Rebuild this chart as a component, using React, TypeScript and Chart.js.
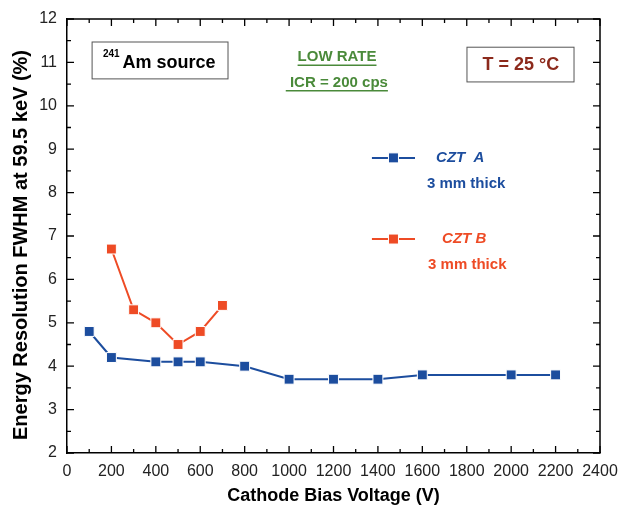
import React, { useEffect, useRef } from "react";
import { Chart, registerables } from "chart.js";

Chart.register(...registerables);

const cztAVoltage = [100, 200, 400, 500, 600, 800, 1000, 1200, 1400, 1600, 2000, 2200];
const cztAFwhm = [4.8, 4.2, 4.1, 4.1, 4.1, 4.0, 3.7, 3.7, 3.7, 3.8, 3.8, 3.8];
const cztBVoltage = [200, 300, 400, 500, 600, 700];
const cztBFwhm = [6.7, 5.3, 5.0, 4.5, 4.8, 5.4];

const xMin = 0, xMax = 2400, xStep = 200;
const yMin = 2, yMax = 12, yStep = 1;

const BLUE = "#1c4d9e";
const RED = "#ee4b25";
const GREEN = "#4a8a3a";
const DARKRED = "#8c2a1c";
const FONT = "'Liberation Sans', Arial, sans-serif";

const decorPlugin = {
  id: "decor",
  afterDraw(chart: any) {
    const { ctx, chartArea: a, scales } = chart;
    const xs = scales.x, ys = scales.y;
    const X = (v: number) => xs.getPixelForValue(v);
    const Y = (v: number) => ys.getPixelForValue(v);
    ctx.save();
    // frame top/right
    ctx.strokeStyle = "#000";
    ctx.lineWidth = 1.5;
    ctx.beginPath();
    ctx.moveTo(a.left, a.top);
    ctx.lineTo(a.right, a.top);
    ctx.lineTo(a.right, a.bottom);
    ctx.stroke();
    // inward ticks
    ctx.lineWidth = 1.3;
    ctx.beginPath();
    for (let v = xMin; v <= xMax; v += xStep / 2) {
      const major = v % xStep === 0;
      const len = major ? 7 : 4;
      const px = X(v);
      ctx.moveTo(px, a.bottom);
      ctx.lineTo(px, a.bottom - len);
      ctx.moveTo(px, a.top);
      ctx.lineTo(px, a.top + len);
    }
    for (let v = yMin; v <= yMax + 1e-9; v += yStep / 2) {
      const major = Math.abs(v - Math.round(v)) < 1e-9;
      const len = major ? 7 : 4;
      const py = Y(v);
      ctx.moveTo(a.left, py);
      ctx.lineTo(a.left + len, py);
      ctx.moveTo(a.right, py);
      ctx.lineTo(a.right - len, py);
    }
    ctx.stroke();

    // y axis title
    ctx.save();
    ctx.translate(21, (a.top + a.bottom) / 2 + 9);
    ctx.rotate(-Math.PI / 2);
    ctx.fillStyle = "#000";
    ctx.textAlign = "center";
    ctx.textBaseline = "middle";
    ctx.font = `bold 20px ${FONT}`;
    ctx.fillText("Energy Resolution FWHM at 59.5 keV (%)", 0, 0);
    ctx.restore();

    ctx.textBaseline = "middle";
    // 241Am source box
    ctx.lineWidth = 1;
    ctx.strokeStyle = "#555";
    ctx.strokeRect(X(113), Y(11.47), X(725) - X(113), Y(10.62) - Y(11.47));
    ctx.fillStyle = "#000";
    ctx.textAlign = "left";
    ctx.font = `bold 10px ${FONT}`;
    ctx.fillText("241", X(162), Y(11.19));
    ctx.font = `bold 18px ${FONT}`;
    ctx.fillText("Am source", X(250), Y(10.99));

    // T box
    ctx.strokeRect(X(1801), Y(11.35), X(2283) - X(1801), Y(10.55) - Y(11.35));
    ctx.fillStyle = DARKRED;
    ctx.textAlign = "center";
    ctx.font = `bold 18px ${FONT}`;
    ctx.fillText("T = 25 \u00B0C", X(2044), Y(10.94));

    // Low rate text (underlined)
    ctx.fillStyle = GREEN;
    ctx.strokeStyle = GREEN;
    ctx.font = `bold 15px ${FONT}`;
    const under = (text: string, cx: number, cy: number) => {
      ctx.fillText(text, cx, cy);
      const w = ctx.measureText(text).width;
      ctx.lineWidth = 1.5;
      ctx.beginPath();
      ctx.moveTo(cx - w / 2, cy + 8);
      ctx.lineTo(cx + w / 2, cy + 8);
      ctx.stroke();
    };
    under("LOW RATE", X(1216), Y(11.12));
    under(" ICR = 200 cps", X(1215), Y(10.53));

    // legend
    const legendItem = (color: string, yv: number, name: string, nameX: number, subX: number, subY: number) => {
      ctx.strokeStyle = color;
      ctx.lineWidth = 2;
      ctx.beginPath();
      ctx.moveTo(X(1373), Y(yv));
      ctx.lineTo(X(1567), Y(yv));
      ctx.stroke();
      ctx.fillStyle = color;
      const cx = X(1470), cy = Y(yv);
      ctx.fillRect(cx - 5, cy - 5, 10, 10);
      ctx.strokeStyle = "#fff";
      ctx.lineWidth = 1;
      ctx.strokeRect(cx - 5, cy - 5, 10, 10);
      ctx.fillStyle = color;
      ctx.textAlign = "left";
      ctx.font = `italic bold 15px ${FONT}`;
      ctx.fillText(name, X(nameX), Y(yv));
      ctx.font = `bold 15px ${FONT}`;
      ctx.fillText("3 mm thick", X(subX), Y(subY));
    };
    legendItem(BLUE, 8.8, "CZT  A", 1662, 1621, 8.2);
    legendItem(RED, 6.93, "CZT B", 1689, 1626, 6.33);
    ctx.restore();
  },
};

export default function App() {
  const ref = useRef<HTMLCanvasElement>(null);
  useEffect(() => {
    if (!ref.current) return;
    const chart = new Chart(ref.current, {
      type: "line",
      data: {
        datasets: [
          {
            label: "CZT A",
            data: cztAVoltage.map((x, i) => ({ x, y: cztAFwhm[i] })),
            borderColor: BLUE,
            backgroundColor: BLUE,
            pointBackgroundColor: BLUE,
            pointBorderColor: "#fff",
            pointBorderWidth: 1,
            pointStyle: "rect",
            pointRadius: 7,
            borderWidth: 2,
            tension: 0,
          },
          {
            label: "CZT B",
            data: cztBVoltage.map((x, i) => ({ x, y: cztBFwhm[i] })),
            borderColor: RED,
            backgroundColor: RED,
            pointBackgroundColor: RED,
            pointBorderColor: "#fff",
            pointBorderWidth: 1,
            pointStyle: "rect",
            pointRadius: 7,
            borderWidth: 2,
            tension: 0,
          },
        ],
      },
      options: {
        responsive: false,
        animation: false,
        layout: { padding: { top: 19, right: 20, left: 0, bottom: 0 } },
        plugins: { legend: { display: false }, tooltip: { enabled: false } },
        scales: {
          x: {
            type: "linear",
            min: xMin,
            max: xMax,
            afterFit: (s: any) => { s.height = 54; s.paddingRight = 0; s.paddingLeft = 0; },
            grid: { display: true, drawOnChartArea: false, drawTicks: false },
            border: { display: true, color: "#000", width: 1.5 },
            ticks: { stepSize: xStep, padding: 9, color: "#222", font: { family: FONT, size: 16 }, callback: (v: any) => String(v) },
            title: { display: true, text: "Cathode Bias Voltage (V)", color: "#000", padding: 0, font: { family: FONT, size: 18, weight: "bold" } },
          },
          y: {
            type: "linear",
            min: yMin,
            max: yMax,
            afterFit: (s: any) => { s.width = 67; s.paddingTop = 0; s.paddingBottom = 0; },
            grid: { display: true, drawOnChartArea: false, drawTicks: false },
            border: { display: true, color: "#000", width: 1.5 },
            ticks: { stepSize: yStep, padding: 10, color: "#222", font: { family: FONT, size: 16 }, callback: (v: any) => String(v) },
            title: { display: false },
          },
        },
      },
      plugins: [decorPlugin],
    } as any);
    return () => chart.destroy();
  }, []);
  return (
    <div style={{ position: "absolute", left: 0, top: 0, width: 620, height: 507, background: "#fff" }}>
      <canvas ref={ref} width={620} height={507} />
    </div>
  );
}
